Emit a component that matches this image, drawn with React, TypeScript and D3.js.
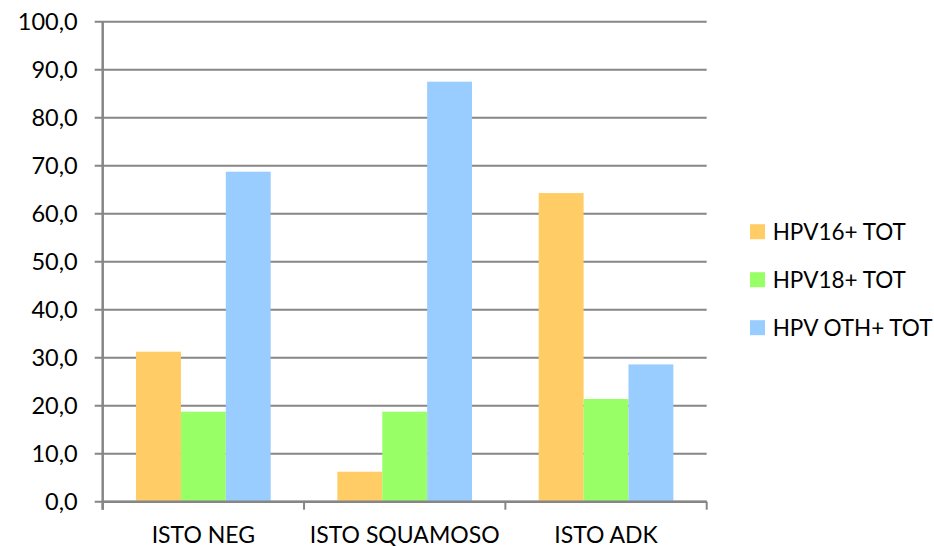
import React, { useEffect, useRef } from 'react';
import * as d3 from 'd3';

const categories = ['ISTO NEG', 'ISTO SQUAMOSO', 'ISTO ADK'];
const seriesNames = ['HPV16+ TOT', 'HPV18+ TOT', 'HPV OTH+ TOT'];
const seriesColors = ['#FFCC66', '#99FF66', '#99CCFF'];
const hpv16 = [31.25, 6.25, 64.3];
const hpv18 = [18.75, 18.75, 21.4];
const hpvOth = [68.75, 87.5, 28.6];
const yTicks = [0, 10, 20, 30, 40, 50, 60, 70, 80, 90, 100];

const W = 934;
const H = 546;
const FONT = 'Lato, "Liberation Sans", Arial, sans-serif';

export default function App() {
  const ref = useRef<SVGSVGElement>(null);

  useEffect(() => {
    const svg = d3.select(ref.current);
    svg.selectAll('*').remove();

    const left = 102.7, right = 706.7, top = 21.7, bottom = 501.7;
    const axisColor = '#868686';

    const x = d3.scaleBand().domain(categories).range([left, right]).padding(0);
    const xs = d3.scaleBand().domain(seriesNames).range([0, x.bandwidth()])
      .paddingInner(0).paddingOuter(0.743);
    const y = d3.scaleLinear().domain([0, 100]).range([bottom, top]);
    const color = d3.scaleOrdinal<string, string>().domain(seriesNames).range(seriesColors);

    const values = [hpv16, hpv18, hpvOth];
    const data = categories.flatMap((c, ci) =>
      seriesNames.map((s, si) => ({ cat: c, series: s, value: values[si][ci] })));

    // gridlines + left ticks
    svg.append('g')
      .selectAll('line')
      .data(yTicks)
      .enter()
      .append('line')
      .attr('x1', left - 8)
      .attr('x2', right)
      .attr('y1', d => y(d))
      .attr('y2', d => y(d))
      .attr('stroke', axisColor)
      .attr('stroke-width', 2);

    // y labels
    svg.append('g')
      .selectAll('text')
      .data(yTicks)
      .enter()
      .append('text')
      .attr('x', left - 25)
      .attr('y', d => y(d))
      .attr('dy', '0.35em')
      .attr('text-anchor', 'end')
      .attr('font-family', FONT)
      .attr('font-size', 23.5)
      .attr('fill', '#000')
      .text(d => d.toFixed(1).replace('.', ','));

    // bars
    svg.append('g')
      .selectAll('rect')
      .data(data)
      .enter()
      .append('rect')
      .attr('x', d => (x(d.cat) as number) + (xs(d.series) as number))
      .attr('y', d => y(d.value))
      .attr('width', xs.bandwidth())
      .attr('height', d => y(0) - y(d.value))
      .attr('fill', d => color(d.series));

    // y axis line
    svg.append('line')
      .attr('x1', left).attr('x2', left)
      .attr('y1', top).attr('y2', bottom + 8)
      .attr('stroke', axisColor).attr('stroke-width', 2.5);

    // x axis line
    svg.append('line')
      .attr('x1', left).attr('x2', right)
      .attr('y1', bottom).attr('y2', bottom)
      .attr('stroke', axisColor).attr('stroke-width', 2.5);

    // x ticks at category boundaries
    const bounds = categories.map(c => x(c) as number).concat([right]);
    svg.append('g')
      .selectAll('line')
      .data(bounds)
      .enter()
      .append('line')
      .attr('x1', d => d).attr('x2', d => d)
      .attr('y1', bottom).attr('y2', bottom + 8)
      .attr('stroke', axisColor).attr('stroke-width', 2);

    // x labels
    svg.append('g')
      .selectAll('text')
      .data(categories)
      .enter()
      .append('text')
      .attr('x', d => (x(d) as number) + x.bandwidth() / 2)
      .attr('y', 542.5)
      .attr('text-anchor', 'middle')
      .attr('font-family', FONT)
      .attr('font-size', 23)
      .attr('fill', '#000')
      .text(d => d);

    // legend
    const ly = d3.scalePoint().domain(seriesNames).range([231.7, 327.7]);
    const lg = svg.append('g')
      .selectAll('g')
      .data(seriesNames)
      .enter()
      .append('g')
      .attr('transform', d => 'translate(750,' + ly(d) + ')');
    lg.append('rect')
      .attr('x', 0).attr('y', -7.5)
      .attr('width', 15).attr('height', 15)
      .attr('fill', d => color(d));
    lg.append('text')
      .attr('x', 22.7)
      .attr('y', 0)
      .attr('dy', '0.35em')
      .attr('font-family', FONT)
      .attr('font-size', 22.5)
      .attr('fill', '#000')
      .text(d => d);
  }, []);

  return (
    <svg ref={ref} width={W} height={H}
      style={{ position: 'absolute', left: 0, top: 0, background: '#fff' }} />
  );
}
